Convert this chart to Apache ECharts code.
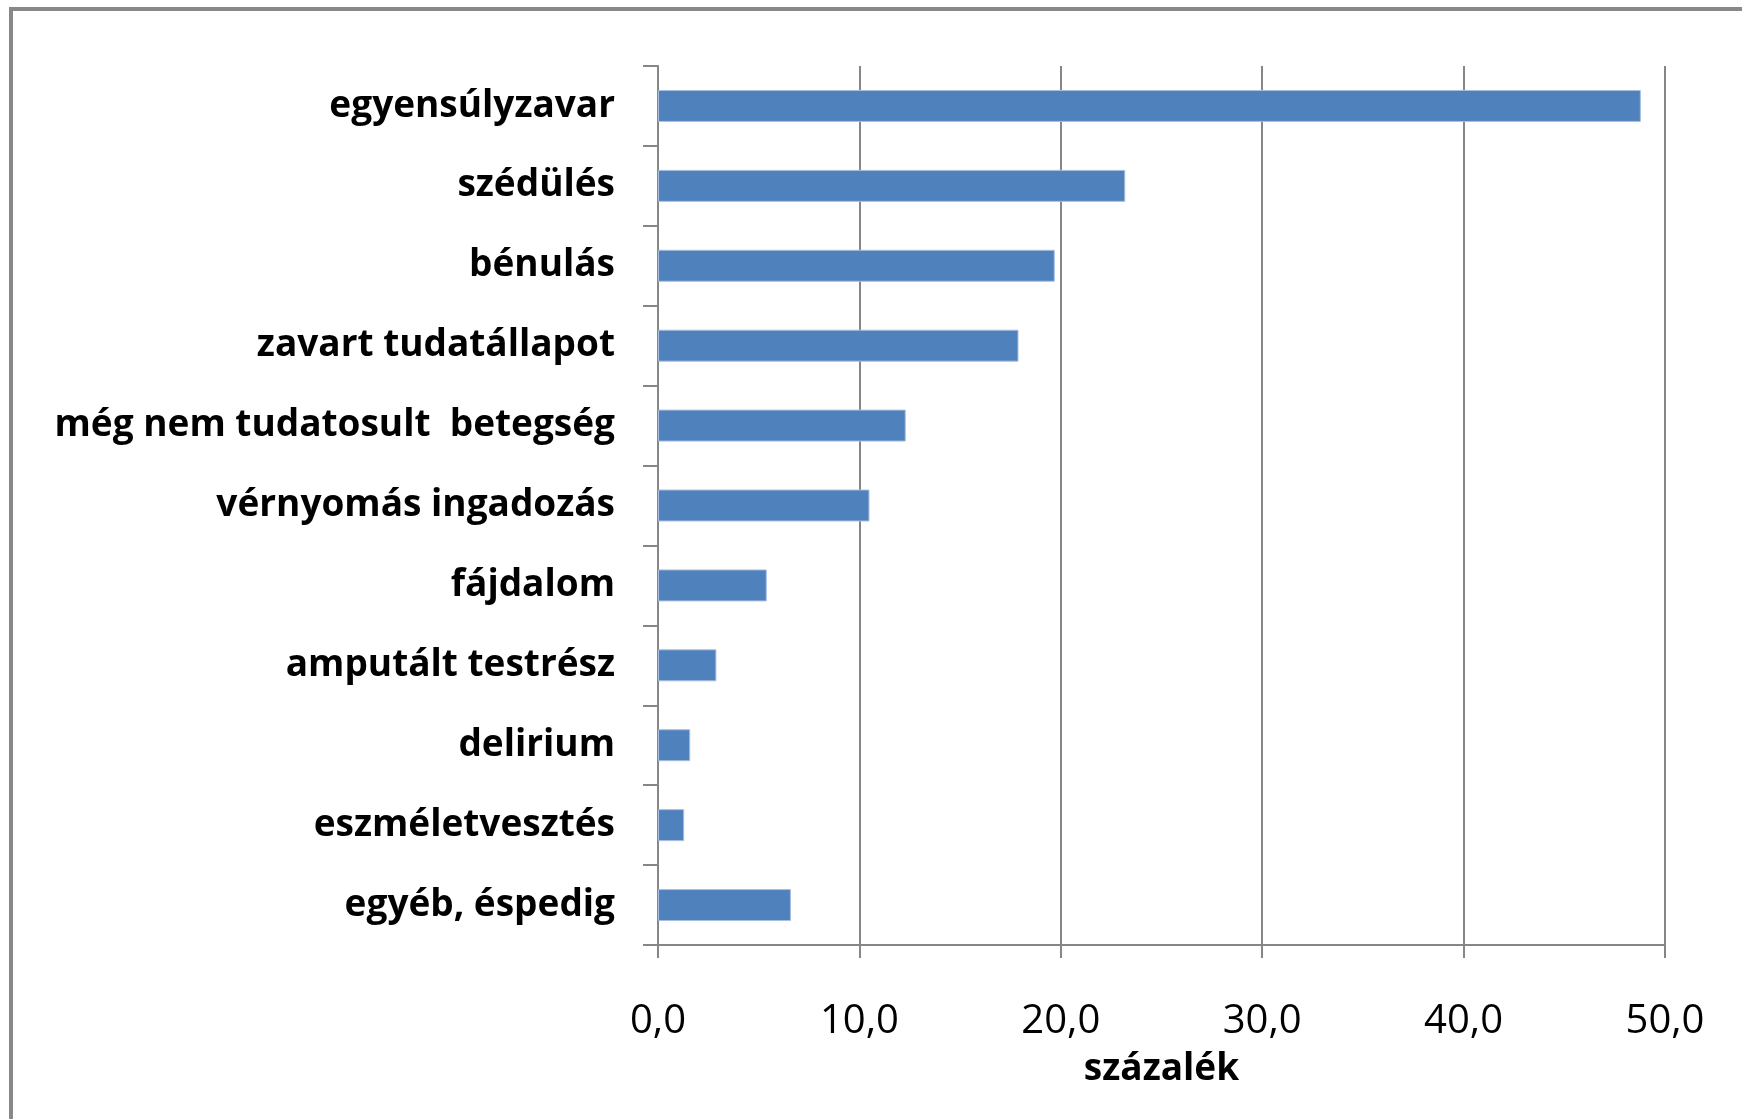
<!DOCTYPE html>
<html>
<head>
<meta charset="utf-8">
<title>százalék</title>
<script src="https://cdn.jsdelivr.net/npm/echarts@6/dist/echarts.min.js"></script>
<style>
    html, body {
        margin: 0;
        padding: 0;
        background: #ffffff;
        overflow: hidden;
    }
    #frame {
        position: absolute;
        left: 9px;
        top: 7px;
        width: 2000px;
        height: 2000px;
        border-left: 4px solid #888888;
        border-top: 4px solid #888888;
    }
    #container {
        position: absolute;
        left: 0;
        top: 0;
        width: 1742px;
        height: 1119px;
    }
</style>
</head>
<body>
<div id="frame"></div>
<div id="container"></div>
<script>
const categories = ["egyensúlyzavar", "szédülés", "bénulás", "zavart tudatállapot", "még nem tudatosult  betegség", "vérnyomás ingadozás", "fájdalom", "amputált testrész", "delirium", "eszméletvesztés", "egyéb, éspedig"];
const percent_values = [48.8, 23.2, 19.7, 17.9, 12.3, 10.5, 5.4, 2.9, 1.6, 1.3, 6.6];
const axis_min = 0;
const axis_max = 50;
const axis_step = 10;
const axis_title = "százalék";

var dom = document.getElementById('container');
var myChart = echarts.init(dom, null, {
    renderer: 'canvas',
    useDirtyRect: false
});

var option;

option = {
    animation: false,
    grid: {
        left: 658,
        right: 77,
        top: 66,
        bottom: 174,
        containLabel: false
    },
    xAxis: {
        type: 'value',
        min: axis_min,
        max: axis_max,
        interval: axis_step,
        name: axis_title,
        nameLocation: 'middle',
        nameGap: 106,
        nameTextStyle: {
            fontFamily: 'Open Sans',
            fontWeight: 'bold',
            fontSize: 37,
            color: '#000000'
        },
        axisLine: {
            show: true,
            lineStyle: { color: '#868686', width: 2 }
        },
        axisTick: {
            show: true,
            length: 13,
            lineStyle: { color: '#868686', width: 2 }
        },
        axisLabel: {
            margin: 57,
            fontFamily: 'Open Sans',
            fontSize: 40,
            color: '#000000',
            formatter: function (value) {
                return value.toFixed(1).replace('.', ',');
            }
        },
        splitLine: {
            show: true,
            lineStyle: { color: '#868686', width: 2 }
        }
    },
    yAxis: {
        type: 'category',
        data: categories,
        inverse: true,
        axisLine: {
            show: true,
            lineStyle: { color: '#868686', width: 2 }
        },
        axisTick: {
            show: true,
            length: 15,
            lineStyle: { color: '#868686', width: 2 }
        },
        axisLabel: {
            margin: 43,
            padding: [5, 0, 0, 0],
            fontFamily: 'Open Sans',
            fontWeight: 'bold',
            fontSize: 37,
            color: '#000000'
        },
        splitLine: { show: false }
    },
    series: [{
        name: axis_title,
        type: 'bar',
        barWidth: '40%',
        data: percent_values,
        itemStyle: {
            color: '#4f81bd',
            borderColor: '#a9bfdf',
            borderWidth: 1
        }
    }]
};

if (option && typeof option === 'object') {
    myChart.setOption(option);
}

window.addEventListener('resize', myChart.resize);
</script>
</body>
</html>
